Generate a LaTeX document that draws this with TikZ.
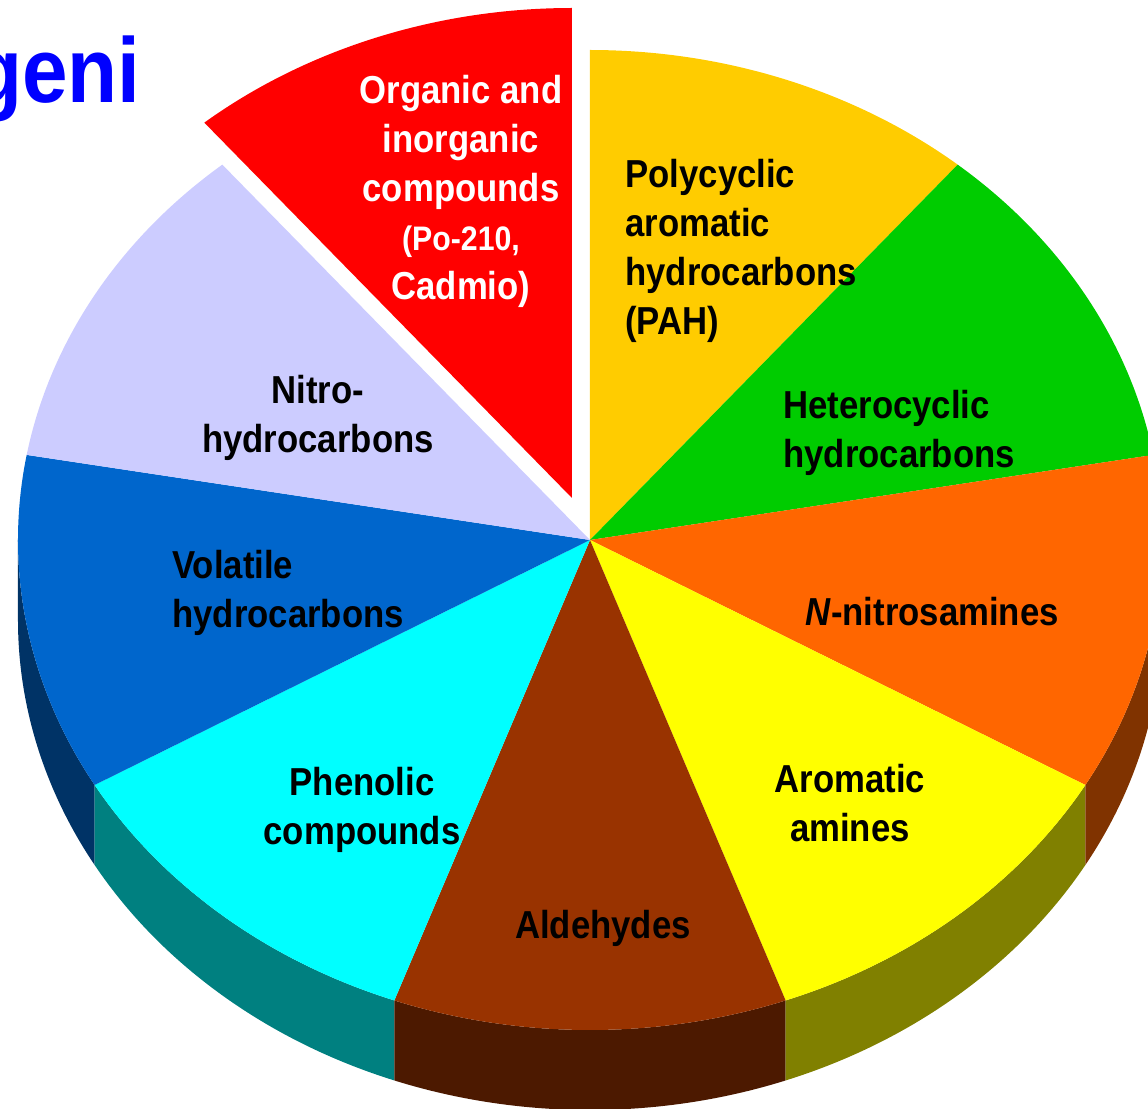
\documentclass[tikz,border=0pt]{standalone}
\usepackage{fontspec}
\setmainfont{Liberation Sans}[FakeStretch=0.89]
\definecolor{orgred}{HTML}{FF0000}
\definecolor{pahyellow}{HTML}{FFCC00}
\definecolor{heterogreen}{HTML}{00CC00}
\definecolor{nitrosorange}{HTML}{FF6600}
\definecolor{aminyellow}{HTML}{FFFF00}
\definecolor{aldebrown}{HTML}{993300}
\definecolor{phenolcyan}{HTML}{00FFFF}
\definecolor{volablue}{HTML}{0066CC}
\definecolor{nitrolilac}{HTML}{CCCCFF}
\definecolor{titleblue}{HTML}{0000FF}

\begin{document}
\begin{tikzpicture}[x=0.5pt,y=0.5pt,
		rim/.style={x radius=572, y radius=490},
		lbl/.style={font=\fontsize{19.5}{24.5}\selectfont\bfseries, inner sep=0pt}]
				\useasboundingbox (-590,-569) rectangle (558,540);
				\coordinate (c) at (0,0);
				\coordinate (cr) at (-18,42);
				% sides of the front slices
				\fill[volablue!50!black] (180:572 and 490) arc[rim, start angle=180, end angle=210] -- ++(0,-80) arc[rim, start angle=210, end angle=180] -- cycle;
				\fill[phenolcyan!50!black] (210:572 and 490) arc[rim, start angle=210, end angle=250] -- ++(0,-80) arc[rim, start angle=250, end angle=210] -- cycle;
				\fill[aldebrown!50!black] (250:572 and 490) arc[rim, start angle=250, end angle=290] -- ++(0,-80) arc[rim, start angle=290, end angle=250] -- cycle;
				\fill[aminyellow!50!black] (290:572 and 490) arc[rim, start angle=290, end angle=330] -- ++(0,-80) arc[rim, start angle=330, end angle=290] -- cycle;
				\fill[nitrosorange!50!black] (330:572 and 490) arc[rim, start angle=330, end angle=360] -- ++(0,-80) arc[rim, start angle=360, end angle=330] -- cycle;
				% top faces
				\fill[pahyellow] (c) -- (50:572 and 490) arc[rim, start angle=50, end angle=90] -- cycle;
				\fill[heterogreen] (c) -- (10:572 and 490) arc[rim, start angle=10, end angle=50] -- cycle;
				\fill[nitrosorange] (c) -- (-30:572 and 490) arc[rim, start angle=-30, end angle=10] -- cycle;
				\fill[aminyellow] (c) -- (-70:572 and 490) arc[rim, start angle=-70, end angle=-30] -- cycle;
				\fill[aldebrown] (c) -- (-110:572 and 490) arc[rim, start angle=-110, end angle=-70] -- cycle;
				\fill[phenolcyan] (c) -- (-150:572 and 490) arc[rim, start angle=-150, end angle=-110] -- cycle;
				\fill[volablue] (c) -- (170:572 and 490) arc[rim, start angle=170, end angle=210] -- cycle;
				\fill[nitrolilac] (c) -- (130:572 and 490) arc[rim, start angle=130, end angle=170] -- cycle;
				% pulled-out slice
				\fill[orgred] (cr) -- ++(90:572 and 490) arc[rim, start angle=90, end angle=130] -- cycle;
				\node[lbl, text=white, align=center, anchor=north] (organic) at (-129,465) {Organic and\\inorganic\\compounds\\\fontsize{17}{22}\selectfont (Po-210,\\Cadmio)};
				\node[lbl, align=left, anchor=north west] (pah) at (35,381) {Polycyclic\\aromatic\\hydrocarbons\\(PAH)};
				\node[lbl, align=left, anchor=north west] (hetero) at (193,150) {Heterocyclic\\hydrocarbons};
				\node[lbl, anchor=north west] (nitroso) at (215,-57) {\textit{N}-nitrosamines};
				\node[lbl, align=center, anchor=north] (amines) at (260,-224) {Aromatic\\amines};
				\node[lbl, anchor=north] (alde) at (13,-370) {Aldehydes};
				\node[lbl, align=center, anchor=north] (phenol) at (-228,-227) {Phenolic\\compounds};
				\node[lbl, align=left, anchor=north west] (volatile) at (-418,-10) {Volatile\\hydrocarbons};
				\node[lbl, align=center, anchor=north] (nitro) at (-272,165) {Nitro-\\hydrocarbons};
				\node[font=\fontsize{46}{50}\selectfont\bfseries, text=titleblue, anchor=base east, inner sep=0pt] (title) at (-449,437) {geni};
\end{tikzpicture}
\end{document}
